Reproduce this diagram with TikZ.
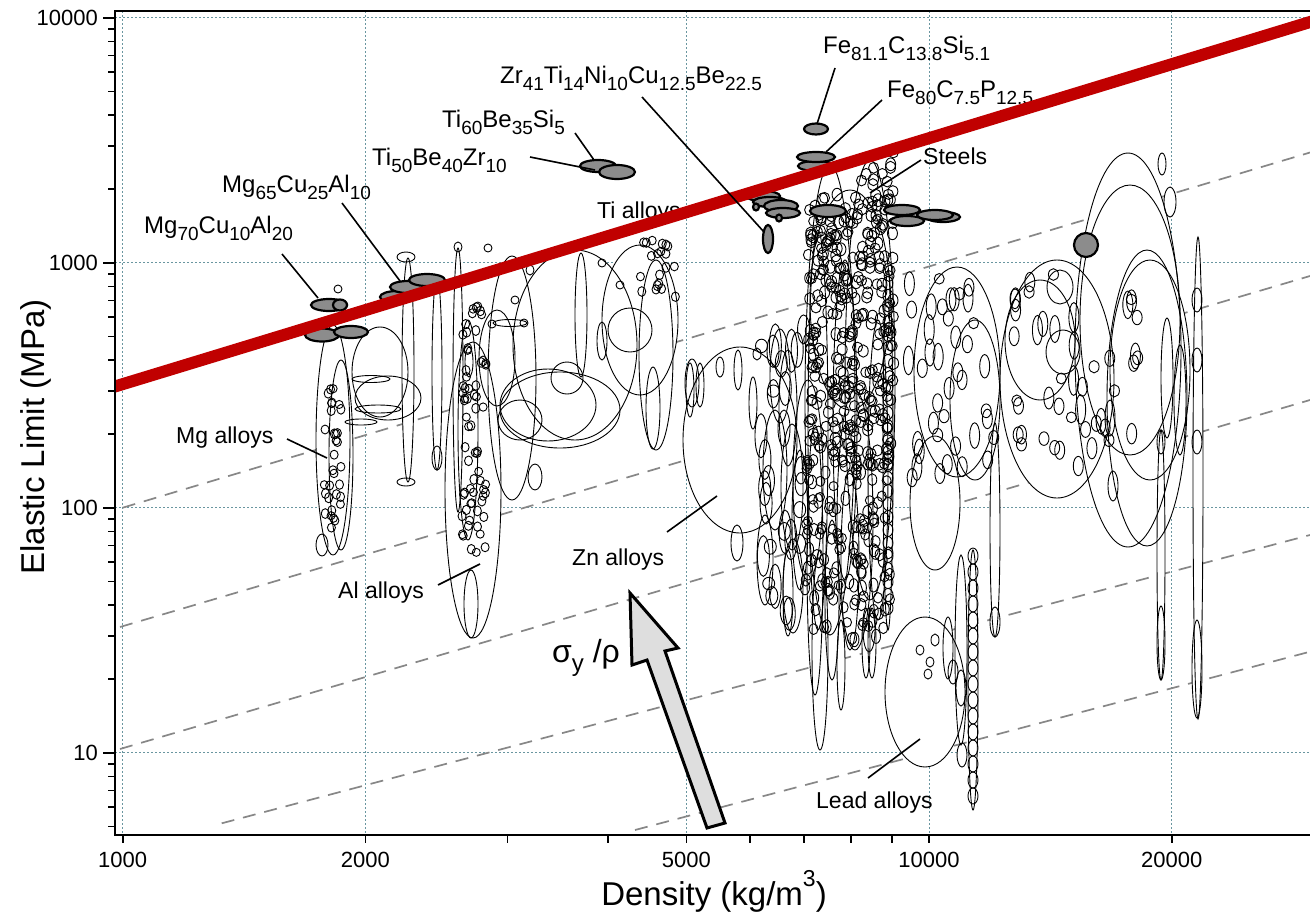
\documentclass[tikz,border=0pt]{standalone}
\usepackage{fontspec}
\setmainfont{Liberation Sans}
\definecolor{gridc}{RGB}{105,150,160}
\definecolor{redl}{RGB}{192,0,0}
\definecolor{glassc}{RGB}{140,140,140}
\definecolor{dashc}{RGB}{135,135,135}
\definecolor{arrowc}{RGB}{222,222,222}
\newcommand\sbx[1]{\raisebox{-0.3em}{\fontsize{19}{19}\selectfont #1}}
\newcommand\RE[7]{\foreach \i in {1,...,#1}{\pgfmathsetmacro\xx{#2+#3*rnd}\pgfmathsetmacro\yy{#4+#5*rnd}\pgfmathsetmacro\ryy{#6+#7*rnd}\Bb{\xx}{\yy}{#6}{\ryy}}}
\newcommand\REsteel[1]{\foreach \i in {1,...,#1}{\pgfmathsetmacro\xx{806+88*rnd}\pgfmathsetmacro\ytop{205-(\xx-806)*0.6}\pgfmathsetmacro\yy{\ytop+(470-\ytop)*rnd}\pgfmathsetmacro\ryy{5+1.5*rnd}\Bb{\xx}{\yy}{5}{\ryy}}}
\newcommand\shapelist{%
\pgfmathsetseed{12345}%
\foreach \a/\b/\c/\d in {333/440/17/115, 341/455/12/95, 322/545/6/11, 338/289/4/4,
380/372/28/45, 388/398/33/22, 371/379/19/3.5, 378/409/23/4, 361/422/16/3,
408/370/6/112, 406/257/9/5, 406/482/9/4, 437/373/5/97, 437/458/5/12, 458/380/5/132, 458/247/4/5, 488/248/4/4,
473/490/28/148, 468/430/10/110, 471/604/7/34,
512/378/24/122, 575/345/62/95, 640/320/38/75, 560/410/60/38, 548/405/48/36, 497/358/18/48, 510/323/17/3.5, 492/324/4/4, 524/323/4/4, 520/420/22/20, 567/378/16/16, 630/330/22/22, 581/315/6/62, 602/341/5/19, 656/355/17/95, 653/408/7/41, 692/383/7/24, 535/477/7/13, 469/362/4/15, 602/263/4/4, 620/285/4/4, 515/300/4/4, 530/270/4/5,
740/440/57/93, 690/390/4/27, 700/385/4/22, 720/367/4/10, 738/370/4/20, 753/403/4/26, 757/354/4/6, 737/543/6/18,
808/480/15/100, 775/470/12/60, 780/376/10/47, 788/408/9/58, 792/487/11/63, 793/586/10/47, 765/560/8/45, 815/560/8/135, 788/593/5/43, 820/650/8/100, 841/665/4/45, 832/600/7/80, 850/560/9/90, 800/520/8/70,
850/300/40/110, 830/400/25/235, 870/380/25/220, 855/520/18/130, 818/430/10/200, 888/450/5/180, 845/420/12/160, 878/470/10/150,
866/643/4/35, 872/643/4/35, 869/630/6/22,
925/692/40/75, 948/648/5/31, 953/672/5/12, 961/688/5/18, 962/755/5/12, 961/650/6/95, 973/680/5/130,
920/650/4/5, 930/662/4/5, 935/640/4/6, 928/674/4/5,
957/372/43/105, 935/503/25/67, 975/400/25/80, 995/530/5/107, 995/622/5/15, 1057/379/57/119, 1040/340/35/60, 1063/352/17/22, 1060/287/13/17,
1128/350/53/197, 1130/320/50/135, 1150/370/40/110, 1147/398/40/148, 1167/378/6/60, 1180/400/6/55,
1198/478/5/241, 1197/669/5/49, 1197/442/5/12, 1197/360/5/12, 1197/300/5/12,
1161/555/4/125, 1161/643/4/37, 1161/442/4/12, 1162/164/4/11, 1170/202/6/15, 1113/486/5/15, 1110/418/5/18}
{\Bb{\a}{\b}{\c}{\d}}%
\REsteel{330}%
\RE{130}{805}{85}{460}{180}{4.5}{3}%
\RE{65}{462}{24}{305}{255}{4}{1}%
\RE{32}{324}{17}{380}{150}{4}{1}%
\RE{20}{638}{38}{240}{60}{4}{1}%
\RE{30}{758}{47}{300}{320}{6}{18}%
\RE{40}{905}{95}{260}{220}{5}{10}%
\RE{45}{1010}{130}{270}{200}{5}{10}%
\foreach \yy in {556,572,...,796}{\Bb{973}{\yy}{5}{8}}%
\foreach \yy in {270,283,...,620}{\Bb{888}{\yy}{5}{6.5}}%
}
\begin{document}
\begin{tikzpicture}[x=1pt,y=-1pt,
  lab/.style={anchor=base west, inner sep=0, font=\fontsize{23}{27}\selectfont},
  frm/.style={anchor=base west, inner sep=0, font=\fontsize{24}{28}\selectfont},
  lead/.style={line width=1.6pt},
  glass/.style={fill=glassc, draw=black, line width=2.2pt},
  gridl/.style={gridc, line width=1pt, dash pattern=on 1.5pt off 2.5pt},
  dsh/.style={dashc, line width=1.7pt, dash pattern=on 13pt off 9pt},
  tk/.style={line width=1.6pt},
  tlab/.style={inner sep=0, font=\fontsize{22}{26}\selectfont}]
\useasboundingbox (0,0) rectangle (1310,913);
\fill[white] (0,0) rectangle (1310,913);
\begin{scope}
\clip (115,11) rectangle (1310,835);
% grid
\foreach \gx in {122.7,365.4,686.3,929,1171.7} \draw[gridl] (\gx,11) -- (\gx,835);
\foreach \gy in {17.7,262.7,507.7,752.7} \draw[gridl] (115,\gy) -- (1310,\gy);
% guide lines
\draw[dsh] (122.7,507.7) -- (1310,152.5);
\draw[dsh] (120,627) -- (1310,276);
\draw[dsh] (120,749) -- (1310,400);
\draw[dsh] (221.7,823.3) -- (1310,535);
\draw[dsh] (635,830) -- (1310,651.7);
% bubbles: fills then outlines
\def\Bb#1#2#3#4{\fill[white] (#1,#2) ellipse [x radius=#3pt, y radius=#4pt];}
\shapelist
\def\Bb#1#2#3#4{\draw[line width=0.9pt] (#1,#2) ellipse [x radius=#3pt, y radius=#4pt];}
\shapelist
% metallic glasses
\foreach \a/\b/\c/\d in {329/305/18/6, 340/305/7/5.5, 322/335/17/6.5, 351/332/17/6,
397/297/17/6, 408/287/18/6, 427/280/18/6, 598/166/18/6, 617/172/18/7, 768/239/5/14,
816/129/12/5.5, 816/166/18/5, 816/157/19/5, 763/196/17/5, 770/202/17/5, 781/206/17/6, 783/213/17/5,
756/207/3/3.5, 779/218/3/3.5, 828/211/18/6, 943/217/17/5, 935/215/18/5, 902/210/18/5, 907/221/17/5, 1086/245/12/12}
{\draw[glass] (\a,\b) ellipse [x radius=\c pt, y radius=\d pt];}
% labels
\node[frm] (mg70) at (144,233) {Mg\sbx{70}Cu\sbx{10}Al\sbx{20}};
\node[frm] (mg65) at (222,192) {Mg\sbx{65}Cu\sbx{25}Al\sbx{10}};
\node[frm] (ti50) at (372,165) {Ti\sbx{50}Be\sbx{40}Zr\sbx{10}};
\node[frm] (ti60) at (442,127) {Ti\sbx{60}Be\sbx{35}Si\sbx{5}};
\node[frm] (zr) at (500,83) {Zr\sbx{41}Ti\sbx{14}Ni\sbx{10}Cu\sbx{12.5}Be\sbx{22.5}};
\node[frm] (fe81) at (823,53) {Fe\sbx{81.1}C\sbx{13.8}Si\sbx{5.1}};
\node[frm] (fe80) at (887,97) {Fe\sbx{80}C\sbx{7.5}P\sbx{12.5}};
\node[lab] (steels) at (923,164) {Steels};
\node[lab] (tia) at (597,218) {Ti alloys};
\node[lab] (mga) at (176,443) {Mg alloys};
\node[lab] (ala) at (338,598) {Al alloys};
\node[lab] (zna) at (572,565) {Zn alloys};
\node[lab] (pba) at (816,808) {Lead alloys};
% red line
\draw[redl, line width=12pt] (110,388) -- (1315,20.5);
\end{scope}
% leaders
\coordinate (m70a) at (282,254); \coordinate (m70b) at (318,298);
\coordinate (m65a) at (342,203); \coordinate (m65b) at (400,281);
\coordinate (t50a) at (530,157); \coordinate (t50b) at (595,170);
\coordinate (t60a) at (575,133); \coordinate (t60b) at (594,160);
\coordinate (zra) at (642,97); \coordinate (zrb) at (764,232);
\coordinate (f81a) at (835,68); \coordinate (f81b) at (817,124);
\coordinate (f80a) at (882,100); \coordinate (f80b) at (826,152);
\coordinate (sta) at (921,160); \coordinate (stb) at (870,193);
\coordinate (mgla) at (287,439); \coordinate (mglb) at (327,458);
\coordinate (alla) at (438,585); \coordinate (allb) at (480,564);
\coordinate (znla) at (667,532); \coordinate (znlb) at (717,496);
\coordinate (pbla) at (868,778); \coordinate (pblb) at (920,739);
\foreach \p in {m70,m65,t50,t60,zr,f81,f80,st,mgl,all,znl,pbl} \draw[lead] (\p a) -- (\p b);
% arrow
\draw[fill=arrowc, line width=3pt, line join=miter] (630,593) coordinate (tip) -- (678,648) -- (665,651) -- (725,823) -- (707,828) -- (647,660) -- (632,665) -- cycle;
\node[anchor=base west, inner sep=0, font=\fontsize{32}{36}\selectfont] (sig) at (552,662) {σ\raisebox{-0.3em}{\fontsize{24}{24}\selectfont y} /ρ};
% axes
\draw[line width=2pt] (1310,11) -- (115,11) -- (115,835) -- (1310,835);
\foreach \tx in {122.7,365.4,507.4,608.1,686.3,750.1,804.1,850.9,892.1,929,1171.7} \draw[tk] (\tx,835) -- (\tx,843);
\foreach \ty in {17.7,262.7,507.7,752.7} \draw[tk] (115,\ty) -- (103,\ty);
\foreach \ty in {28.91,41.44,55.65,72.05,91.45,115.2,145.8,188.95,273.91,286.44,300.65,317.05,336.45,360.2,390.8,433.95,518.91,531.44,545.65,562.05,581.45,605.2,635.8,678.95,763.91,776.44,790.65,807.05,826.45} \draw[tk] (115,\ty) -- (108,\ty);
\node[tlab, anchor=east] (y4) at (98,17.7) {10000};
\node[tlab, anchor=east] (y3) at (98,262.7) {1000};
\node[tlab, anchor=east] (y2) at (98,507.7) {100};
\node[tlab, anchor=east] (y1) at (98,752.7) {10};
\node[tlab] (x1) at (122.7,860) {1000};
\node[tlab] (x2) at (365.4,860) {2000};
\node[tlab] (x5) at (686.3,860) {5000};
\node[tlab] (x10) at (929,860) {10000};
\node[tlab] (x20) at (1171.7,860) {20000};
\node[anchor=base, inner sep=0, font=\fontsize{33}{38}\selectfont] (xt) at (714,905) {Density (kg/m\raisebox{0.55em}{\fontsize{23}{23}\selectfont 3})};
\node[anchor=base, rotate=90, inner sep=0, font=\fontsize{33}{38}\selectfont] (yt) at (45,437) {Elastic Limit (MPa)};
\end{tikzpicture}
\end{document}
